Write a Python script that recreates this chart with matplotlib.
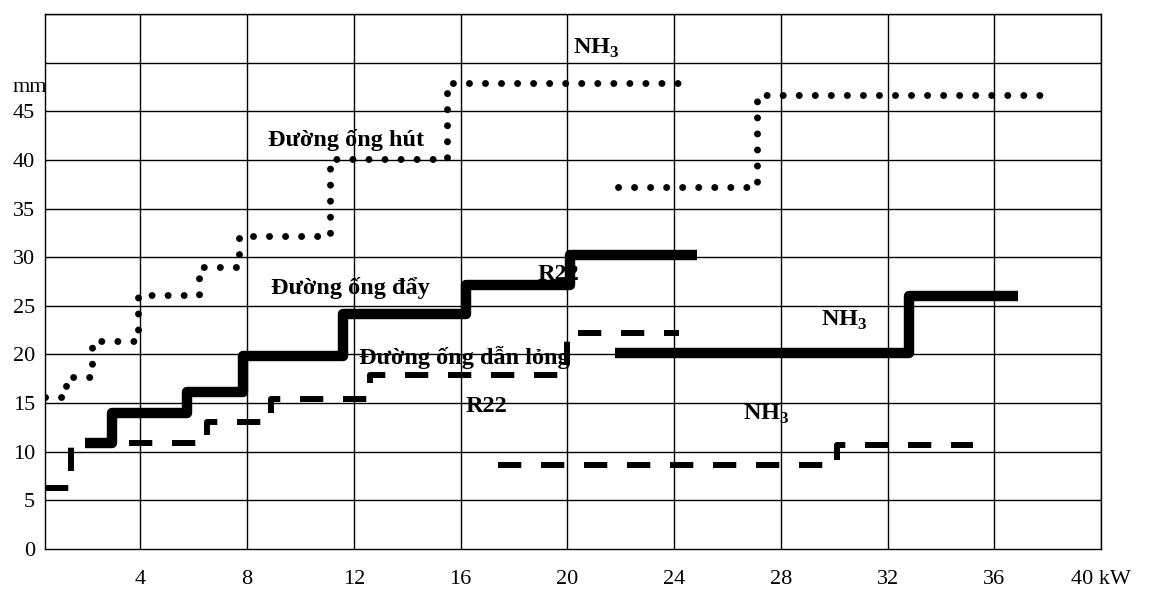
import matplotlib
matplotlib.use('Agg')
import matplotlib.pyplot as plt

plt.rcParams['font.family'] = ['Liberation Serif', 'DejaVu Serif']
plt.rcParams['mathtext.fontset'] = 'custom'
plt.rcParams['mathtext.rm'] = 'Liberation Serif'
plt.rcParams['mathtext.bf'] = 'Liberation Serif:bold'

# step break points (kW) and pipe sizes (mm)
suc_r22_x = [0.43, 1.2, 2.2, 3.9, 6.2, 7.7, 11.1, 15.5, 24.55]
suc_r22_y = [15.6, 17.7, 21.4, 26.1, 29.0, 32.2, 40.1, 47.9, 47.9]
suc_nh3_x = [21.9, 27.1, 37.7]
suc_nh3_y = [37.2, 46.7, 46.7]

dis_r22_x = [1.93, 2.94, 5.74, 7.85, 11.6, 16.2, 20.1, 24.85]
dis_r22_y = [10.9, 14.0, 16.1, 19.8, 24.2, 27.1, 30.2, 30.2]
dis_nh3_x = [21.8, 32.8, 36.9]
dis_nh3_y = [20.1, 26.0, 26.0]

liq_r22_x = [0.43, 1.4, 6.5, 8.9, 12.6, 20.0, 24.2]
liq_r22_y = [6.3, 10.9, 13.1, 15.4, 17.9, 22.2, 22.2]
liq_nh3_x = [17.4, 30.1, 35.2]
liq_nh3_y = [8.6, 10.7, 10.7]

x_ticks = [4, 8, 12, 16, 20, 24, 28, 32, 36, 40]
x_labels = ['4', '8', '12', '16', '20', '24', '28', '32', '36', '40 kW']
y_ticks = [0, 5, 10, 15, 20, 25, 30, 35, 40, 45]

fig = plt.figure(figsize=(11.57, 5.95), dpi=100)
ax = fig.add_axes([0.0389, 0.0773, 0.9127, 0.8992])
ax.set_xlim(0.43, 40)
ax.set_ylim(0, 55)

# grid
for gx in range(4, 41, 4):
    ax.axvline(gx, color='black', lw=1.0, zorder=1)
for gy in range(5, 56, 5):
    ax.axhline(gy, color='black', lw=1.0, zorder=1)
for s in ax.spines.values():
    s.set_linewidth(1.0)

# suction lines (dotted)
for xs, ys in [(suc_r22_x, suc_r22_y), (suc_nh3_x, suc_nh3_y)]:
    ln, = ax.plot(xs, ys, drawstyle='steps-post', color='black', lw=5.0, zorder=3)
    ln.set_dashes((0.01, 2.3))
    ln.set_dash_capstyle('round')

# discharge lines (thick solid)
for xs, ys in [(dis_r22_x, dis_r22_y), (dis_nh3_x, dis_nh3_y)]:
    ax.plot(xs, ys, drawstyle='steps-post', color='black', lw=7.5,
            solid_joinstyle='round', solid_capstyle='butt', zorder=3)

# liquid lines (dashed)
for xs, ys in [(liq_r22_x, liq_r22_y), (liq_nh3_x, liq_nh3_y)]:
    ln, = ax.plot(xs, ys, drawstyle='steps-post', color='black', lw=4.3, zorder=3)
    ln.set_dashes((3.9, 3.3))
    ln.set_dash_capstyle('butt')

ax.set_xticks(x_ticks)
ax.set_xticklabels(x_labels)
ax.set_yticks(y_ticks)
ax.tick_params(length=0, labelsize=16)
ax.tick_params(axis='x', pad=15)
ax.tick_params(axis='y', pad=7)

bold = dict(fontsize=17.5, fontweight='bold', va='center', ha='left', zorder=4)
ax.text(20.2, 51.5, r'NH$_{\mathbf{3}}$', **bold)
ax.text(8.79, 42.0, 'Đường ống hút', **bold)
ax.text(8.9, 26.8, 'Đường ống đẩy', **bold)
ax.text(18.9, 28.2, 'R22', **bold)
ax.text(12.2, 19.7, 'Đường ống dẫn lỏng', **bold)
ax.text(16.2, 14.6, 'R22', **bold)
ax.text(26.6, 13.8, r'NH$_{\mathbf{3}}$', **bold)
ax.text(29.5, 23.5, r'NH$_{\mathbf{3}}$', **bold)
ax.text(-0.77, 47.4, 'mm', fontsize=16, va='center', ha='left', clip_on=False)

fig.savefig('out.png', dpi=100)
